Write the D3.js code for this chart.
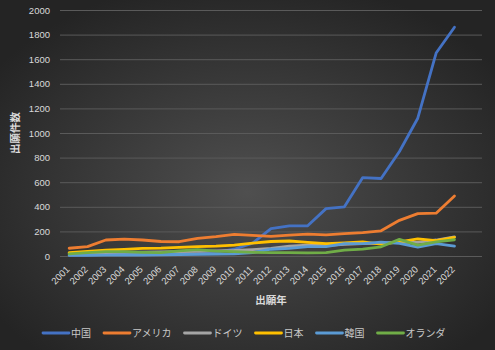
<!DOCTYPE html>
<html>
<head>
<meta charset="utf-8">
<script src="https://cdn.jsdelivr.net/npm/d3@7/dist/d3.min.js"></script>
<style>
  html, body { margin: 0; padding: 0; background: #2a2a2a; }
  svg { display: block; }
</style>
</head>
<body>
<svg id="chart" width="495" height="350"></svg>
<script>
// Patent applications by filing year and applicant country
const years = ["2001","2002","2003","2004","2005","2006","2007","2008","2009","2010","2011",
               "2012","2013","2014","2015","2016","2017","2018","2019","2020","2021","2022"];
const yTicks = [0, 200, 400, 600, 800, 1000, 1200, 1400, 1600, 1800, 2000];

const china       = [8, 10, 12, 14, 15, 16, 18, 20, 30, 55, 105, 222, 245, 246, 385, 400, 638, 630, 850, 1120, 1650, 1860];
const usa         = [63, 76, 130, 138, 130, 118, 116, 144, 157, 176, 168, 160, 170, 178, 172, 182, 190, 205, 290, 345, 348, 488];
const germany     = [20, 25, 28, 30, 32, 33, 35, 38, 42, 45, 52, 62, 80, 88, 85, 95, 100, 105, 110, 110, 130, 155];
const japan       = [27, 38, 48, 54, 62, 64, 70, 76, 80, 88, 105, 118, 122, 110, 100, 106, 114, 96, 115, 140, 125, 152];
const korea       = [5, 6, 7, 8, 8, 10, 12, 14, 16, 18, 28, 55, 62, 76, 76, 100, 100, 112, 103, 72, 100, 80];
const netherlands = [18, 28, 36, 35, 30, 28, 42, 52, 40, 35, 30, 28, 27, 26, 28, 48, 56, 75, 135, 88, 115, 132];

const seriesNames  = ["中国", "アメリカ", "ドイツ", "日本", "韓国", "オランダ"];
const seriesValues = [china, usa, germany, japan, korea, netherlands];
const seriesColors = ["#4472C4", "#ED7D31", "#A5A5A5", "#FFC000", "#5B9BD5", "#70AD47"];

const svg = d3.select("#chart");
const W = 495, H = 350;
const plot = { left: 60, right: 482, top: 10, bottom: 256 };
const font = "'Liberation Sans', Arial, sans-serif";
const cjk = "'Noto Sans CJK JP', 'Noto Sans', sans-serif";

// dark radial background
const defs = svg.append("defs");
const grad = defs.append("radialGradient").attr("id", "bg")
  .attr("cx", "50%").attr("cy", "55%").attr("r", "62%");
grad.append("stop").attr("offset", "0%").attr("stop-color", "#4f4f4f");
grad.append("stop").attr("offset", "100%").attr("stop-color", "#242424");
svg.append("rect").attr("width", W).attr("height", H).attr("fill", "url(#bg)");

// one extra empty slot at the end of the category axis
const slots = years.concat([""]);
const x = d3.scaleBand().domain(slots).range([plot.left, plot.right]);
const xc = d => x(d) + x.bandwidth() / 2;
const y = d3.scaleLinear().domain([0, 2000]).range([plot.bottom, plot.top]);

// horizontal gridlines
svg.append("g")
  .attr("transform", `translate(${plot.left},0)`)
  .call(d3.axisLeft(y).tickValues(yTicks).tickSize(-(plot.right - plot.left)).tickFormat(""))
  .call(g => g.select(".domain").remove())
  .call(g => g.selectAll(".tick line").attr("stroke", "#5a5a5a").attr("stroke-width", 1));

// y tick labels
svg.append("g")
  .attr("transform", `translate(${plot.left - 10},0)`)
  .call(d3.axisLeft(y).tickValues(yTicks).tickSize(0).tickPadding(0).tickFormat(d3.format("d")))
  .call(g => g.select(".domain").remove())
  .call(g => g.selectAll("text")
    .attr("fill", "#d9d9d9").attr("font-family", font).attr("font-size", "9.5px"));

// x tick labels, rotated
svg.append("g")
  .attr("transform", `translate(0,${plot.bottom})`)
  .call(d3.axisBottom(x).tickValues(years).tickSize(0).tickPadding(0))
  .call(g => g.select(".domain").remove())
  .call(g => g.selectAll("text")
    .attr("fill", "#d9d9d9").attr("font-family", font).attr("font-size", "9.5px")
    .attr("text-anchor", "end")
    .attr("dy", "0")
    .attr("transform", "translate(1,14) rotate(-45)"));

// series lines
const line = d3.line()
  .x((d, i) => xc(years[i]))
  .y(d => y(d));

seriesValues.forEach((vals, k) => {
  svg.append("path")
    .datum(vals)
    .attr("d", line)
    .attr("fill", "none")
    .attr("stroke", seriesColors[k])
    .attr("stroke-width", 2.8)
    .attr("stroke-linejoin", "round")
    .attr("stroke-linecap", "round");
});

// axis titles
svg.append("text")
  .attr("transform", `translate(19,${(plot.top + plot.bottom) / 2}) rotate(-90)`)
  .attr("text-anchor", "middle")
  .attr("fill", "#d9d9d9").attr("font-family", cjk).attr("font-weight", "bold")
  .attr("font-size", "10.5px")
  .text("出願件数");

svg.append("text")
  .attr("x", 271).attr("y", 304)
  .attr("text-anchor", "middle")
  .attr("fill", "#d9d9d9").attr("font-family", cjk).attr("font-weight", "bold")
  .attr("font-size", "10.5px")
  .text("出願年");

// legend
const legend = svg.append("g").attr("transform", "translate(0,333)");
let lx = 43;
seriesNames.forEach((name, k) => {
  legend.append("line")
    .attr("x1", lx).attr("x2", lx + 26).attr("y1", 0).attr("y2", 0)
    .attr("stroke", seriesColors[k]).attr("stroke-width", 2.8).attr("stroke-linecap", "round");
  const t = legend.append("text")
    .attr("x", lx + 28).attr("y", 3.5)
    .attr("fill", "#c8c8c8").attr("font-family", cjk).attr("font-size", "10px")
    .text(name);
  lx += 28 + t.node().getComputedTextLength() + 13;
});
</script>
</body>
</html>
